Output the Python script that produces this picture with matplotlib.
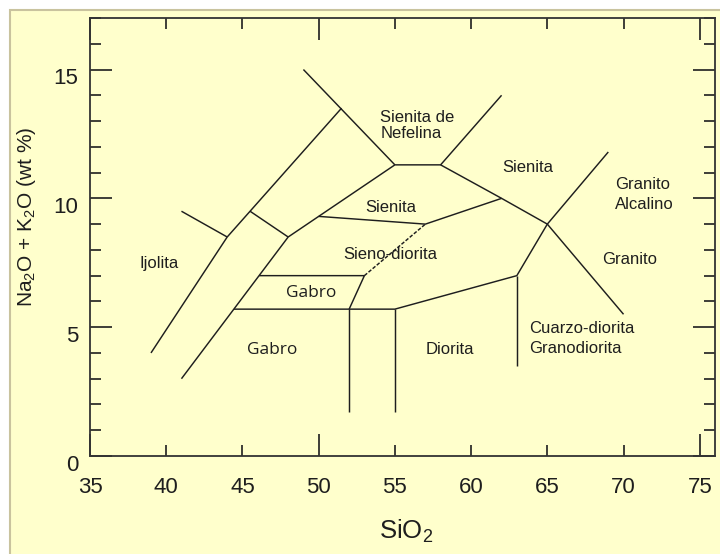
import matplotlib
matplotlib.use('Agg')
import matplotlib.pyplot as plt
import matplotlib.transforms as mtransforms
from matplotlib.patches import Rectangle
from matplotlib.ticker import MultipleLocator

plt.rcParams['font.family'] = ['Liberation Sans', 'DejaVu Sans']
plt.rcParams['mathtext.fontset'] = 'custom'
plt.rcParams['mathtext.rm'] = 'Liberation Sans'
plt.rcParams['mathtext.it'] = 'Liberation Sans:italic'
plt.rcParams['mathtext.bf'] = 'Liberation Sans:bold'

# field boundaries, SiO2 (wt %) vs Na2O + K2O (wt %)
foid_x, foid_y = [39, 44, 51.5], [4, 8.5, 13.5]
ijol_tie_x, ijol_tie_y = [41, 44], [9.5, 8.5]
foid_tie_x, foid_tie_y = [45.5, 48], [9.5, 8.5]
gabbro_edge_x = [41, 48, 50, 55, 58, 62]
gabbro_edge_y = [3, 8.5, 9.3, 11.3, 11.3, 14]
nesy_x, nesy_y = [49, 55], [15, 11.3]
syen_x, syen_y = [58, 62, 65, 70], [11.3, 10, 9, 5.5]
syen_low_x, syen_low_y = [50, 57, 62], [9.3, 9, 10]
syendio_x, syendio_y = [53, 57], [7, 9]
gab_top_x, gab_top_y = [46.1, 53, 52], [7, 7, 5.7]
dio_top_x = [44.45, 55, 63, 65, 69]
dio_top_y = [5.7, 5.7, 7, 9, 11.8]
cut52_x, cut52_y = [52, 52], [5.7, 1.7]
cut55_x, cut55_y = [55, 55], [5.7, 1.7]
cut63_x, cut63_y = [63, 63], [7, 3.5]

solid_lines = [
    (foid_x, foid_y), (ijol_tie_x, ijol_tie_y), (foid_tie_x, foid_tie_y),
    (gabbro_edge_x, gabbro_edge_y), (nesy_x, nesy_y), (syen_x, syen_y),
    (syen_low_x, syen_low_y), (gab_top_x, gab_top_y), (dio_top_x, dio_top_y),
    (cut52_x, cut52_y), (cut55_x, cut55_y), (cut63_x, cut63_y),
]

# rock names: text, x, baseline y, alignment
field_names = ['Ijolita', 'Sienita de', 'Nefelina', 'Sienita', 'Sienita',
               'Granito', 'Alcalino', 'Granito', 'Sieno-diorita', 'Diorita',
               'Cuarzo-diorita', 'Granodiorita']
field_x = [39.53, 54.04, 54.04, 63.69, 54.76, 69.47, 69.47, 70.41, 54.73,
           58.64, 63.82, 63.82]
field_y = [7.31, 12.98, 12.35, 11.03, 9.47, 10.38, 9.59, 7.45, 7.64, 3.96,
           4.79, 3.99]
field_ha = ['center', 'left', 'left', 'center', 'center', 'left', 'left',
            'center', 'center', 'center', 'left', 'left']
gabro_x = [49.51, 46.98]
gabro_y = [6.17, 3.96]

x_major = [35, 50, 75]
x_minor = [40, 45, 55, 60, 65, 70]
y_major = [0, 5, 10, 15]

ink = '#1e1e1e'

fig = plt.figure(figsize=(7.2, 5.54), dpi=100)
fig.patch.set_facecolor('white')
fig.patches.append(Rectangle((10 / 720, -0.1), 1.2, 0.1 + 544 / 554,
                             transform=fig.transFigure, facecolor='#ffffcc',
                             edgecolor='#c9c39e', lw=1.5, zorder=-10))

ax = fig.add_axes([90 / 720, 98 / 554, 625 / 720, 438 / 554])
ax.set_facecolor('none')

for xs, ys in solid_lines:
    ax.plot(xs, ys, color=ink, lw=1.05, solid_capstyle='butt')
ax.plot(syendio_x, syendio_y, color=ink, lw=1.05, linestyle=(0, (2.5, 1.2)))

for name, x, y, ha in zip(field_names, field_x, field_y, field_ha):
    ax.text(x, y, name, ha=ha, va='baseline', fontsize=12, color=ink)
for x, y in zip(gabro_x, gabro_y):
    ax.text(x, y, 'Gabro', ha='center', va='baseline', fontsize=12.5,
            family=['Open Sans', 'DejaVu Sans'], color=ink)

ax.set_xlim(35, 76)
ax.set_ylim(0, 17)
ax.set_xticks(x_major)
ax.set_xticks(x_minor, minor=True)
ax.set_xticklabels([str(v) for v in x_major])
ax.set_xticklabels([str(v) for v in x_minor], minor=True)
ax.set_yticks(y_major)
ax.yaxis.set_minor_locator(MultipleLocator(1))

ax.tick_params(axis='both', which='both', direction='in', width=1.2,
               color=ink, labelcolor=ink, labelsize=16)
ax.tick_params(axis='x', which='both', top=True, pad=15)
ax.tick_params(axis='y', which='both', right=True, pad=8.5)
ax.tick_params(which='major', length=16)
ax.tick_params(which='minor', length=8)
for sp in ax.spines.values():
    sp.set_color('#333333')
    sp.set_linewidth(1.3)

# y tick numbers sit a little below their ticks
shift = mtransforms.ScaledTranslation(0, -5 / 72, fig.dpi_scale_trans)
for lab in ax.get_yticklabels():
    lab.set_transform(lab.get_transform() + shift)

ax.set_xlabel('SiO$_2$', fontsize=18.5, color=ink, va='baseline')
ax.xaxis.set_label_coords(0.5056, -0.188)
ax.set_ylabel('Na$_2$O + K$_2$O (wt %)', fontsize=15, color=ink,
              va='center', ha='center')
ax.yaxis.set_label_coords(-0.102, 0.545)

fig.savefig('out.png', dpi=100)
